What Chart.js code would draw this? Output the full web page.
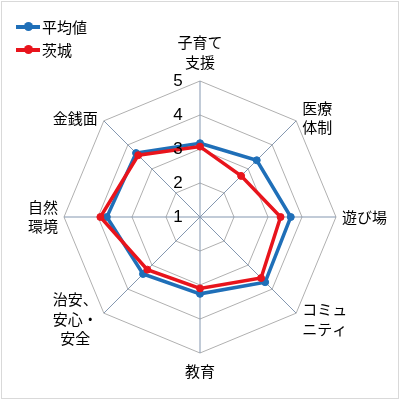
<!DOCTYPE html>
<html lang="ja">
<head>
<meta charset="utf-8">
<script src="https://cdn.jsdelivr.net/npm/chart.js@4"></script>
<style>
  html, body { margin: 0; padding: 0; background: #fff; }
  #wrap { position: relative; width: 400px; height: 400px; }
  #frame { position: absolute; left: 1px; top: 1px; width: 396px; height: 396px; border: 1px solid #d9d9d9; pointer-events: none; }
  #legend { position: absolute; left: 16px; top: 15px; font: 15px "Noto Sans CJK JP", sans-serif; color: #000; }
  .item { display: flex; align-items: center; height: 23px; }
  .key { position: relative; width: 24px; height: 4px; margin-right: 2px; }
  .key i { position: absolute; left: 8px; top: -3px; width: 9px; height: 9px; border-radius: 50%; }
</style>
</head>
<body>
<div id="wrap">
  <canvas id="c" width="400" height="400"></canvas>
  <div id="legend"></div>
  <div id="frame"></div>
</div>
<script>
// radar: 子育て関連の評価 (平均値 vs 茨城)
const categories = [['子育て', '支援'], ['医療', '体制'], '遊び場', ['コミュ', 'ニティ'], '教育', ['治安、', '安心・', '安全'], ['自然', '環境'], '金銭面'];
const averageValues = [3.17, 3.36, 3.67, 3.71, 3.26, 3.37, 3.74, 3.66];
const ibarakiValues = [3.07, 2.71, 3.37, 3.54, 3.10, 3.19, 3.93, 3.57];
const tickValues = [1, 2, 3, 4, 5];

const BLUE = '#1f6fb8';
const RED = '#e8141c';
const jp = '"Noto Sans CJK JP", "Noto Sans", sans-serif';
const LINE_H = 19.5;

// tick numbers left of the vertical axis, the centre one included
const tickLabels = {
  id: 'tickLabels',
  afterDatasetsDraw(chart) {
    const s = chart.scales.r;
    const ctx = chart.ctx;
    ctx.save();
    ctx.fillStyle = '#000';
    ctx.font = '17px "Liberation Sans", Arial, sans-serif';
    ctx.textAlign = 'center';
    ctx.textBaseline = 'middle';
    tickValues.forEach((v) => {
      const d = s.getDistanceFromCenterForValue(v);
      ctx.fillText(String(v), s.xCenter - 22, s.yCenter - d);
    });
    ctx.restore();
  },
};

// category labels placed Excel-style: diagonal ones sit beside the vertex, vertically centred
const categoryLabels = {
  id: 'categoryLabels',
  afterDraw(chart) {
    const s = chart.scales.r;
    const ctx = chart.ctx;
    ctx.save();
    ctx.fillStyle = '#000';
    ctx.font = `15px ${jp}`;
    ctx.textAlign = 'center';
    ctx.textBaseline = 'middle';
    chart.data.labels.forEach((lab, i) => {
      const lines = [].concat(lab);
      const p = s.getPointPosition(i, s.drawingArea);
      const cos = Math.cos(p.angle), sin = Math.sin(p.angle);
      const w = Math.max(...lines.map((t) => ctx.measureText(t).width));
      const h = lines.length * LINE_H;
      let cx = p.x, cy = p.y;
      if (Math.abs(cos) < 0.1) {
        cy = sin < 0 ? p.y - 9 - h / 2 : p.y + 9 + h / 2;
      } else {
        cx = cos > 0 ? p.x + 6 + w / 2 : p.x - 6 - w / 2;
        if (Math.abs(sin) > 0.1) cy = p.y + (sin > 0 ? 6 : -3);
      }
      lines.forEach((t, k) => {
        ctx.fillText(t, cx, cy - h / 2 + LINE_H * (k + 0.5));
      });
    });
    ctx.restore();
  },
};

const series = [
  { label: '平均値', data: averageValues, color: BLUE, order: 2 },
  { label: '茨城', data: ibarakiValues, color: RED, order: 1 },
];

new Chart(document.getElementById('c'), {
  type: 'radar',
  data: {
    labels: categories,
    datasets: series.map((s) => ({
      label: s.label,
      data: s.data,
      order: s.order,
      borderColor: s.color,
      backgroundColor: s.color,
      pointBackgroundColor: s.color,
      pointBorderColor: s.color,
      borderWidth: 3.5,
      pointRadius: 3.5,
      pointBorderWidth: 1,
      fill: false,
    })),
  },
  options: {
    responsive: false,
    animation: false,
    layout: { padding: { top: 81, bottom: 47, left: 64, right: 64 } },
    plugins: { legend: { display: false }, tooltip: { enabled: false } },
    scales: {
      r: {
        min: 1, max: 5,
        ticks: { stepSize: 1, display: false },
        grid: { color: '#b0b0b0', lineWidth: 1 },
        angleLines: { color: '#8497b0', lineWidth: 1 },
        pointLabels: { display: false },
      },
    },
  },
  plugins: [tickLabels, categoryLabels],
});

const legend = document.getElementById('legend');
series.forEach((s) => {
  const row = document.createElement('div');
  row.className = 'item';
  row.innerHTML = `<span class="key" style="background:${s.color}"><i style="background:${s.color}"></i></span><span>${s.label}</span>`;
  legend.appendChild(row);
});
</script>
</body>
</html>
